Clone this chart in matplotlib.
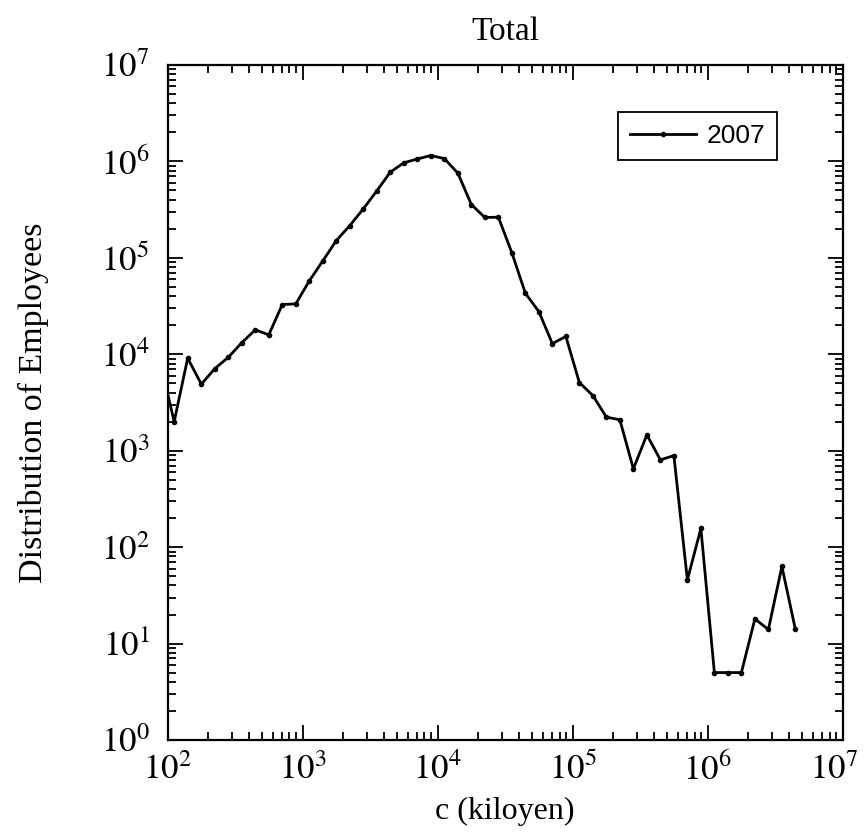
import numpy as np
import matplotlib
matplotlib.use("Agg")
import matplotlib.pyplot as plt
from matplotlib.transforms import ScaledTranslation

# bin centres (kiloyen) and employee counts, 2007
c_kiloyen = [89, 112, 141, 178, 224, 282, 355, 447, 562, 708, 891,
             1122, 1413, 1778, 2239, 2818, 3548, 4467, 5623, 7079, 8913,
             11220, 14125, 17783, 22387, 28184, 35481, 44668, 56234, 70795, 89125,
             112202, 141254, 177828, 223872, 281838, 354813, 446684, 562341, 707946, 891251,
             1122018, 1412538, 1778279, 2238721, 2818383, 3548134, 4466836]
employees = [7900, 2000, 9100, 4900, 7100, 9300, 13200, 17900, 15900, 32800, 33300,
             57700, 93000, 151000, 216000, 322000, 495000, 774000, 967000, 1060000, 1150000,
             1070000, 756000, 357000, 262000, 264000, 113000, 43000, 27700, 12900, 15300,
             5090, 3730, 2230, 2090, 648, 1460, 803, 890, 45.7, 156,
             5, 5, 5, 18, 14, 63, 14]

plt.rcParams['font.family'] = ['Liberation Serif', 'DejaVu Serif']
plt.rcParams['mathtext.fontset'] = 'stix'

fig = plt.figure(figsize=(8.64, 8.35), dpi=100)
ax = fig.add_axes([0.1939, 0.1138, 0.7814, 0.8084])

ax.plot(c_kiloyen, employees, color='black', lw=2.0, marker='o', ms=3,
        label='2007')

ax.set_xscale('log')
ax.set_yscale('log')
ax.set_xlim(1e2, 1e7)
ax.set_ylim(1e0, 1e7)

ax.set_xticks([10.0**k for k in range(2, 8)])
ax.set_xticklabels([f'$10^{{{k}}}$' for k in range(2, 8)])
ax.set_yticks([10.0**k for k in range(0, 8)])
ax.set_yticklabels([f'$10^{{{k}}}$' for k in range(0, 8)])

ax.tick_params(which='both', direction='in', top=True, right=True, width=1.3)
ax.tick_params(which='major', length=11, labelsize=25)
ax.tick_params(axis='y', which='major', pad=13)
ax.tick_params(axis='x', which='major', pad=10)
ax.tick_params(which='minor', length=5.5)
for s in ax.spines.values():
    s.set_linewidth(1.6)

# keep the last x label inside the figure edge
last = ax.get_xticklabels()[-1]
last.set_transform(last.get_transform() + ScaledTranslation(-6 / 72, 0, fig.dpi_scale_trans))

ax.set_title('Total', fontsize=24, pad=18)
ax.set_xlabel('c (kiloyen)', fontsize=23, labelpad=6)
ax.set_ylabel('Distribution of Employees', fontsize=24.5, labelpad=37)

leg = ax.legend(loc='upper right', bbox_to_anchor=(0.9027, 0.930), borderaxespad=0,
                fancybox=False, edgecolor='black', framealpha=1, borderpad=0.45,
                handlelength=2.5, handletextpad=0.4,
                prop={'family': 'Liberation Sans', 'size': 19})
leg.get_frame().set_linewidth(1.3)

fig.savefig('out.png', dpi=100)
